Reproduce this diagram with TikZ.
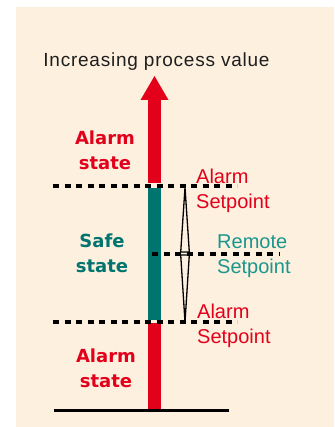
\documentclass[tikz,border=0pt]{standalone}
\usepackage{fontspec}
\setmainfont{Liberation Sans}
\newfontfamily\statefont{DejaVu Sans}
\definecolor{alarmred}{HTML}{E2001A}
\definecolor{safeteal}{HTML}{00746F}
\definecolor{remoteteal}{HTML}{1A968C}
\definecolor{cream}{HTML}{FDF0DF}
\definecolor{titlegray}{HTML}{1E1E1E}

\begin{document}
\begin{tikzpicture}[
    x=1pt, y=-1pt,
    setline/.style={line width=4pt,dash pattern=on 6pt off 5.5pt},
    statetext/.style={font=\statefont\bfseries\fontsize{18}{25}\selectfont,align=center,inner sep=0pt},
    settext/.style={font=\fontsize{20}{25}\selectfont,align=left,anchor=north west,inner sep=0pt},
    offset/.style={draw=black,fill=cream,line width=1.3pt}
    ]
    \useasboundingbox (0,0) rectangle (334,427);
    \fill[cream] (16,7) rectangle (334,427);
    % process value bar
    \fill[alarmred] (148,100) rectangle (161,183.5);
    \fill[alarmred] (140.5,100) -- (154.5,76) -- (168.5,100) -- cycle;
    \fill[safeteal] (148,188) rectangle (161,320);
    \fill[alarmred] (148,323) rectangle (161,410);
    \draw[line width=3pt] (54,410.5) -- (229,410.5);
    % setpoints
    \coordinate (hiset) at (185,187.5);
    \coordinate (rset) at (185,253.5);
    \coordinate (loset) at (185,322);
    \draw[offset] (180.7,252) -- (hiset) -- (189.3,252) -- cycle;
    \draw[offset] (180.7,255) -- (loset) -- (189.3,255) -- cycle;
    \coordinate (hil) at (53,186.5);
    \coordinate (hir) at (237,186.5);
    \coordinate (rl) at (152,253.5);
    \coordinate (rr) at (279,253.5);
    \coordinate (lol) at (53,321.5);
    \coordinate (lor) at (237,321.5);
    \draw[setline] (hil) -- (hir);
    \draw[setline] (rl) -- (rr);
    \draw[setline] (lol) -- (lor);
    % labels
    \node[font=\fontsize{19}{22}\selectfont\addfontfeature{LetterSpace=4},text=titlegray,anchor=base] (title) at (156.5,67) {Increasing process value};
    \node[statetext,text=alarmred] (hialarm) at (105,150.6) {Alarm\\state};
    \node[statetext,text=safeteal] (safe) at (102,252.9) {Safe\\state};
    \node[statetext,text=alarmred] (loalarm) at (106,368.7) {Alarm\\state};
    \node[settext,text=alarmred] (hisetlbl) at (196,168.4) {Alarm\\Setpoint};
    \node[settext,text=remoteteal] (rsetlbl) at (217,234.2) {Remote\\Setpoint};
    \node[settext,text=alarmred] (losetlbl) at (197,303.7) {Alarm\\Setpoint};
\end{tikzpicture}
\end{document}
